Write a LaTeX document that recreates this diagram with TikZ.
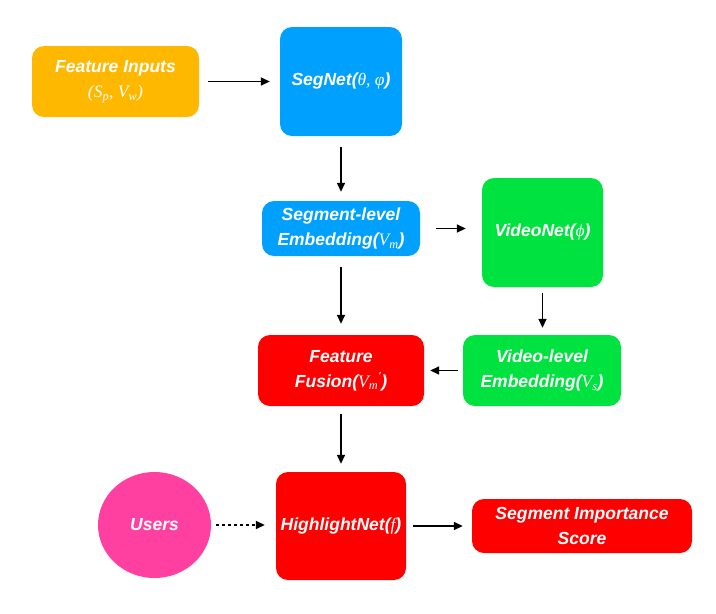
\documentclass[tikz,border=0pt]{standalone}
\usepackage{fontspec}
\setmainfont{Liberation Sans}
\newfontfamily\serfam{Liberation Serif}
\usetikzlibrary{arrows.meta,shapes.geometric}
\definecolor{cOrange}{RGB}{255,184,0}
\definecolor{cBlue}{RGB}{0,160,255}
\definecolor{cGreen}{RGB}{0,226,64}
\definecolor{cRed}{RGB}{255,0,0}
\definecolor{cPink}{RGB}{255,64,160}
\newcommand{\mv}[1]{{\serfam\mdseries\itshape #1}}
\newcommand{\msub}[1]{\textsubscript{\serfam\mdseries\itshape #1}}
\tikzset{
  blk/.style={rectangle, rounded corners=12pt, text=white, align=center,
    font=\fontsize{17.5}{25}\selectfont\bfseries\itshape, inner sep=0pt},
  arr/.style={line width=1.6pt, -{Triangle[length=9pt,width=8pt]}},
}
\begin{document}
\begin{tikzpicture}[x=1pt,y=-1pt]
\useasboundingbox (0,0) rectangle (716,614);
\node[blk, fill=cOrange, minimum width=167pt, minimum height=71pt] (fi) at (115.5,81.5) {Feature Inputs\\\mv{(S\msub{p}, V\msub{w})}};
\node[blk, fill=cBlue, minimum width=122pt, minimum height=109pt] (seg) at (341,81.5) {SegNet(\mv{θ, φ})};
\node[blk, fill=cBlue, minimum width=158pt, minimum height=55pt] (sle) at (341,228.5) {Segment-level\\Embedding(\mv{V\msub{m}})};
\node[blk, fill=cGreen, minimum width=121pt, minimum height=109pt] (vn) at (542.5,232.5) {VideoNet(\mv{ϕ})};
\node[blk, fill=cRed, minimum width=166pt, minimum height=71pt] (ff) at (341,370.5) {Feature\\Fusion(\mv{V\msub{m}\textsuperscript{\serfam\mdseries\char"2032}})};
\node[blk, fill=cGreen, minimum width=158pt, minimum height=71pt] (vle) at (542,370.5) {Video-level\\Embedding(\mv{V\msub{s}})};
\node[ellipse, fill=cPink, text=white, font=\fontsize{17.5}{25}\selectfont\bfseries\itshape, minimum width=113pt, minimum height=106pt, inner sep=0pt] (us) at (154.5,525) {Users};
\node[blk, fill=cRed, minimum width=130pt, minimum height=108pt] (hn) at (341,526) {HighlightNet(\mv{f})};
\node[blk, fill=cRed, minimum width=220pt, minimum height=54pt] (sis) at (582,526) {Segment Importance\\Score};

\draw[arr, shorten <=9pt, shorten >=10pt] (fi.east) -- (fi.east -| seg.west);
\draw[arr, shorten <=11pt, shorten >=9pt] (seg.south) -- (sle.north);
\draw[arr, shorten <=16pt, shorten >=16pt] (sle.east) -- (sle.east -| vn.west);
\draw[arr, shorten <=11pt, shorten >=11pt] (sle.south) -- (ff.north);
\draw[arr, shorten <=6pt, shorten >=7pt] (vn.south) -- (vn.south |- vle.north);
\draw[arr, shorten <=5pt, shorten >=6pt] (vle.west) -- (ff.east);
\draw[arr, shorten <=8pt, shorten >=8pt] (ff.south) -- (hn.north);
\draw[arr, dash pattern=on 3pt off 3pt, shorten <=5pt, shorten >=11pt] (us.east) -- (us.east -| hn.west);
\draw[arr, shorten <=7pt, shorten >=9pt] (hn.east) -- (hn.east -| sis.west);
\end{tikzpicture}
\end{document}
